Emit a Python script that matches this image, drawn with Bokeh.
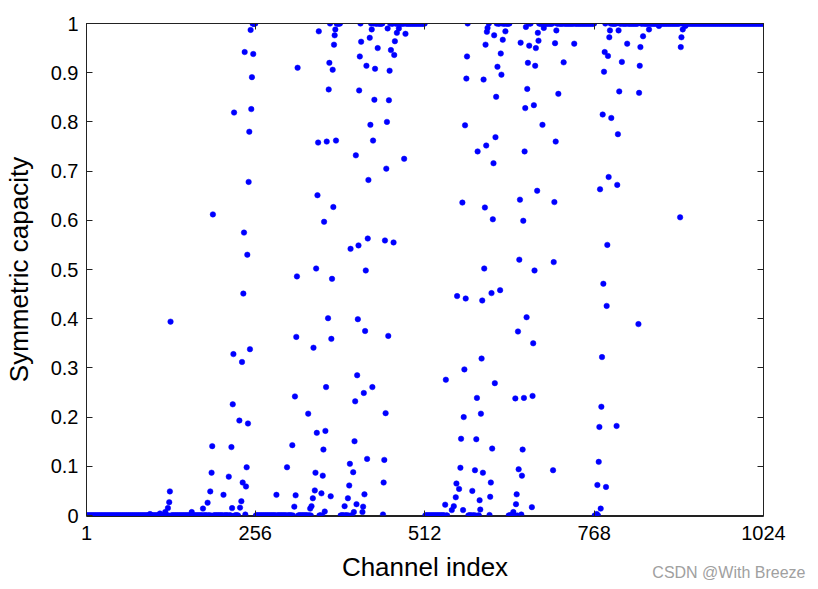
from bokeh.plotting import figure
from bokeh.models import FixedTicker, LinearAxis, Range1d, Title, CustomJSTickFormatter, ColumnDataSource
from bokeh.embed import file_html
from bokeh.resources import INLINE

# ---- data ----
# channels with intermediate capacity: (index, value)
mid_index = [97, 112, 120, 124, 126, 127, 128, 160, 177,
             184, 188, 190, 191, 192, 208, 216, 220, 221, 222, 223, 224, 232, 233, 235, 236, 237, 238, 239,
             240, 241, 242, 243, 244, 245, 246, 247, 248, 249, 250, 251, 253, 254,
             288, 304, 312, 315, 316, 317, 318, 319, 320, 336, 339, 341, 343, 344, 346, 347, 348, 349, 350,
             351, 352, 356, 358, 359, 360, 361, 362, 363, 364, 366, 367, 368, 369, 370, 371, 372, 373, 374,
             375, 376, 377, 378,
             391, 396, 398, 399, 400, 404, 405, 406, 407, 408, 409, 410, 411, 412, 413, 414, 415, 416, 418,
             419, 420, 421, 422, 423, 424, 425, 426, 427, 429, 430, 432, 433, 434, 436, 437, 441, 449, 450,
             451, 452, 453, 454, 455, 456, 457, 458, 459, 461, 465, 466, 467, 470, 473, 481, 483,
             543, 544, 553, 556, 559, 560, 561, 564, 566, 567, 569, 570, 571, 572, 573, 574, 575, 576, 577,
             584, 588, 590, 591, 592, 595, 596, 597, 598, 599, 600, 601, 602, 603, 604, 605, 606, 607, 609,
             610, 611, 612, 613, 614, 615, 616, 617, 618, 619, 620, 622, 626, 627, 628, 630, 634,
             646, 649, 650, 651, 653, 654, 655, 656, 657, 658, 659, 660, 661, 662, 663, 664, 665, 666, 667,
             668, 670, 674, 675, 676, 677, 678, 679, 680, 682, 683, 684, 690, 692, 706, 707, 708, 709, 710,
             711, 714, 722, 738,
             772, 773, 775, 776, 777, 778, 779, 780, 781, 782, 783, 784, 786, 787, 788, 789, 790, 791, 792,
             794, 802, 803, 804, 805, 806, 810, 818, 835, 836, 837, 838, 842, 851, 866,
             898, 899, 900, 902, 906]
mid_value = [0.003, 0.004, 0.007, 0.015, 0.027, 0.049, 0.394, 0.007, 0.014,
             0.026, 0.049, 0.087, 0.141, 0.612, 0.042, 0.079, 0.139, 0.015, 0.226, 0.328, 0.819, 0.193, 0.016, 0.029, 0.312, 0.067, 0.451, 0.575,
             0.942, 0.002, 0.059, 0.098, 0.530, 0.187, 0.678, 0.780, 0.338, 0.987, 0.826, 0.891, 0.938, 0.999,
             0.042, 0.098, 0.143, 0.018, 0.242, 0.041, 0.363, 0.486, 0.910, 0.207, 0.014, 0.019, 0.035, 0.341, 0.051, 0.087, 0.502, 0.168, 0.651,
             0.758, 0.984, 0.045, 0.081, 0.134, 0.597, 0.008, 0.172, 0.261, 0.760, 0.401, 0.866, 0.920, 1.000, 0.039, 0.359, 0.481, 0.906, 0.627,
             0.957, 0.976, 0.988, 0.762,
             0.019, 0.035, 0.061, 0.105, 0.542, 0.088, 0.007, 0.151, 0.232, 0.732, 0.023, 0.285, 0.399, 0.549, 0.864, 0.933, 1.000, 0.963, 0.007,
             0.018, 0.249, 0.043, 0.375, 0.498, 0.914, 0.115, 0.563, 0.682, 0.971, 0.794, 0.988, 0.261, 0.762, 0.845, 0.908, 0.950, 0.002, 0.067,
             0.113, 0.559, 0.208, 0.705, 0.800, 0.990, 0.365, 0.844, 0.904, 0.946, 0.555, 0.936, 0.964, 0.981, 0.990, 0.725, 0.979,
             0.022, 0.276, 0.011, 0.019, 0.037, 0.065, 0.446, 0.054, 0.097, 0.156, 0.636, 0.011, 0.200, 0.297, 0.793, 0.441, 0.888, 0.933, 1.000,
             0.050, 0.092, 0.155, 0.239, 0.740, 0.031, 0.012, 0.207, 0.319, 0.437, 0.087, 0.886, 0.502, 0.626, 0.957, 0.752, 0.983, 0.991, 1.000,
             0.001, 0.038, 0.067, 0.452, 0.136, 0.602, 0.716, 0.976, 0.269, 0.769, 0.851, 0.912, 0.458, 0.939, 0.896, 0.967, 0.984,
             0.007, 0.238, 0.023, 0.043, 0.374, 0.094, 0.520, 0.642, 0.961, 0.002, 0.081, 0.134, 0.599, 0.239, 0.740, 0.828, 0.993, 0.403, 0.867,
             0.920, 0.955, 0.017, 0.243, 0.350, 0.834, 0.498, 0.914, 0.950, 0.660, 0.981, 0.965, 0.794, 0.991, 0.092, 0.515, 0.637, 0.960, 0.760,
             0.986, 0.857, 0.921, 0.959,
             0.003, 0.062, 0.109, 0.180, 0.663, 0.014, 0.221, 0.322, 0.815, 0.471, 0.902, 0.942, 0.058, 0.426, 0.550, 0.934, 0.688, 0.972, 0.986,
             0.808, 0.182, 0.672, 0.775, 0.986, 0.862, 0.922, 0.959, 0.389, 0.859, 0.914, 0.952, 0.974, 0.988, 0.995,
             0.606, 0.952, 0.972, 0.988, 0.995]

# runs of channels sitting at capacity 0 and at capacity 1 (first, last)
zero_runs = [(1, 230), (257, 313), (321, 340), (351, 364), (385, 402), (513, 546),
             (578, 597), (639, 654), (769, 777)]
one_runs = [(250, 256), (369, 384), (430, 512), (620, 640), (664, 672), (682, 705),
            (711, 768), (785, 1024)]

x_ticks = [1, 256, 512, 768, 1024]
y_ticks = [0, 0.1, 0.2, 0.3, 0.4, 0.5, 0.6, 0.7, 0.8, 0.9, 1]

# ---- assemble ----
mid_set = set(mid_index)
xs, ys = list(mid_index), list(mid_value)
for runs, level in ((zero_runs, 0.0), (one_runs, 1.0)):
    for a, b in runs:
        for i in range(a, b + 1):
            if i not in mid_set:
                xs.append(i)
                ys.append(level)
src = ColumnDataSource(dict(x=xs, y=ys))

p = figure(width=818, height=589, x_range=Range1d(1, 1024), y_range=Range1d(0, 1),
           output_backend="svg", toolbar_location=None,
           min_border_left=85, min_border_right=55, min_border_top=23, min_border_bottom=74)
p.grid.visible = False
p.outline_line_color = "#222222"
p.outline_line_width = 1
p.background_fill_color = "white"
p.border_fill_color = "white"

p.scatter("x", "y", source=src, size=5.5, fill_color="#0000ff", line_color="#0000ff", line_width=0.5)

font = "Liberation Sans"
fmt = CustomJSTickFormatter(code="return String(Math.round(tick*10)/10);")
blank = CustomJSTickFormatter(code="return '';")

xa = p.xaxis[0]
xa.ticker = FixedTicker(ticks=x_ticks)
xa.axis_label = "Channel index"
ya = p.yaxis[0]
ya.ticker = FixedTicker(ticks=y_ticks)
ya.formatter = fmt
ya.axis_label = "Symmetric capacity"
for ax in (xa, ya):
    ax.major_tick_in = 6
    ax.major_tick_out = 0
    ax.minor_tick_in = 0
    ax.minor_tick_out = 0
    ax.axis_line_color = "#222222"
    ax.major_tick_line_color = "#222222"
    ax.major_label_text_font = font
    ax.major_label_text_font_size = "20px"
    ax.major_label_text_color = "black"
    ax.axis_label_text_font = font
    ax.axis_label_text_font_size = "26px"
    ax.axis_label_text_font_style = "normal"
    ax.axis_label_text_color = "black"
xa.major_label_standoff = 9
xa.axis_label_standoff = 9
ya.major_label_standoff = 8
ya.axis_label_standoff = 14

# mirrored ticks (box style)
for side, ticks in (("right", y_ticks), ("above", x_ticks)):
    ax = LinearAxis(ticker=FixedTicker(ticks=ticks), formatter=blank,
                    major_label_text_font_size="1px", major_label_text_color=None,
                    major_label_standoff=0,
                    major_tick_in=6, major_tick_out=0, minor_tick_in=0, minor_tick_out=0,
                    axis_line_color="#222222", major_tick_line_color="#222222")
    p.add_layout(ax, side)

# watermark: a zero-height title sitting next to the frame, pushed down by padding
wm = Title(text="CSDN @With Breeze", align="right", vertical_align="top",
           offset=-42, standoff=-132, text_font=font, text_font_size="16px",
           text_font_style="normal", text_color="#a0a0a0",
           padding=dict(left=0, right=0, top=114, bottom=0))
p.below = [wm] + list(p.below)

open("out.html", "w").write(file_html(p, INLINE))
